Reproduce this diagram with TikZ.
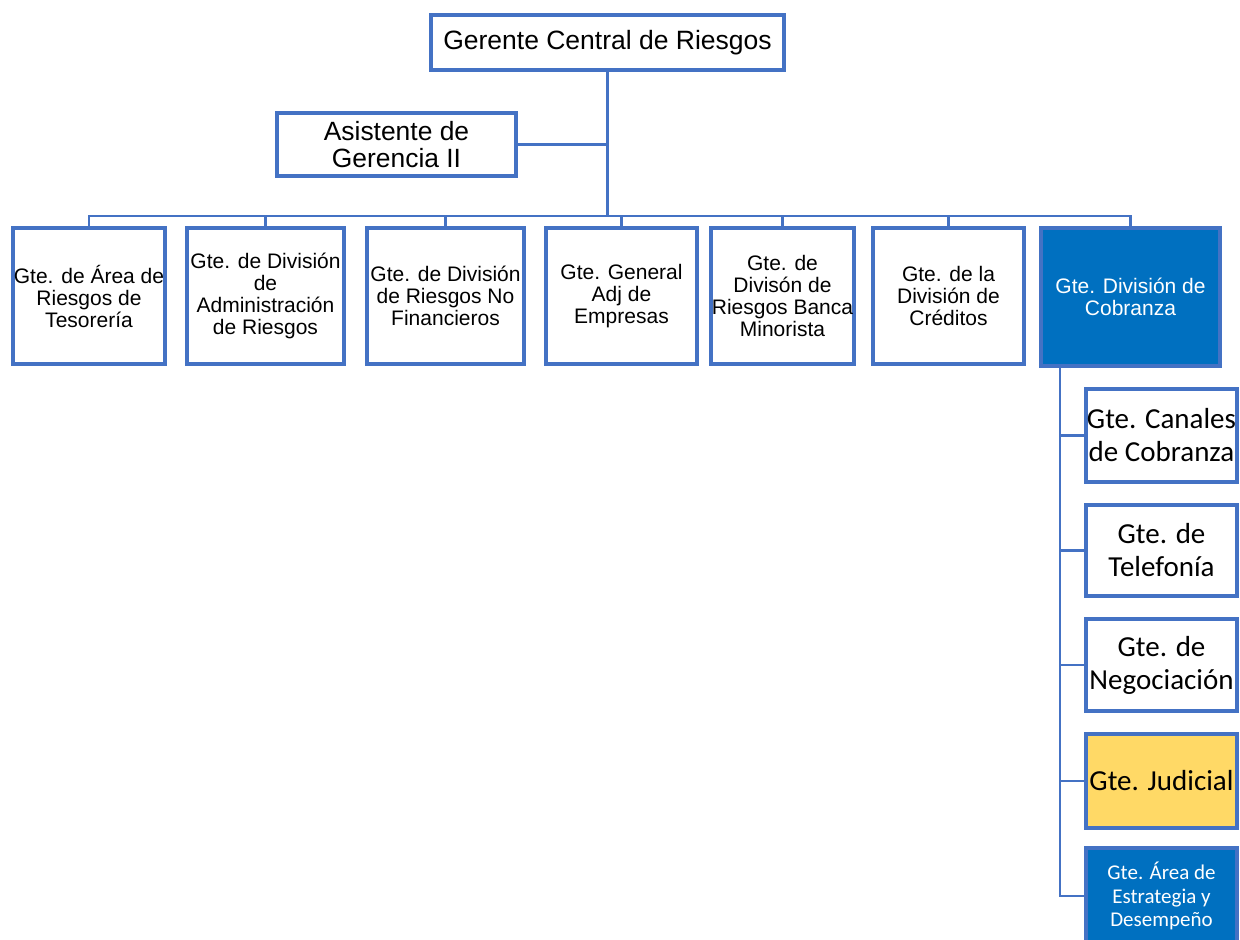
\documentclass[tikz,border=0pt]{standalone}
\usepackage{fontspec}
\setmainfont{Liberation Sans}
\newfontfamily\calib{Carlito}
\definecolor{bord}{HTML}{4472C4}
\definecolor{dblue}{HTML}{0070C0}
\definecolor{gold}{HTML}{FFD966}
\begin{document}
\begin{tikzpicture}[x=1pt,y=-1pt,
  box/.style={draw=bord,line width=3.5pt,fill=white,inner sep=0pt,outer sep=0pt,align=center,text=black},
  rowbox/.style={box,minimum height=136pt,font={\fontsize{21}{22}\selectfont}},
  colbox/.style={box,minimum width=151pt,font={\calib\fontsize{29}{33}\selectfont}},
  conn/.style={draw=bord,line width=2.5pt}]
\useasboundingbox (0,0) rectangle (1240,940);
\clip (0,0) rectangle (1240,940);
% top
\node[box,minimum width=353pt,minimum height=55pt,font={\fontsize{26.5}{28}\selectfont}] (top) at (607.5,42.5) {Gerente Central de Riesgos};
\node[box,minimum width=239pt,minimum height=63pt,font={\fontsize{26.4}{26.7}\selectfont}] (asst) at (396.5,144.5) {Asistente de\\Gerencia II};
% row
\node[rowbox,minimum width=152pt] (b1) at (89,296) {Gte. de Área de\\Riesgos de\\Tesorería};
\node[rowbox,minimum width=157pt] (b2) at (265.5,296) {Gte. de División\\de\\Administración\\de Riesgos};
\node[rowbox,minimum width=157pt] (b3) at (445.5,296) {Gte. de División\\de Riesgos No\\Financieros};
\node[rowbox,minimum width=151pt] (b4) at (621.5,296) {Gte. General\\Adj de\\Empresas};
\node[rowbox,minimum width=143pt] (b5) at (782.5,296) {Gte. de\\Divisón de\\Riesgos Banca\\Minorista};
\node[rowbox,minimum width=151pt] (b6) at (948.5,296) {Gte. de la\\División de\\Créditos};
\node[rowbox,minimum width=179pt,minimum height=138pt,fill=dblue,text=white] (b7) at (1130.5,297) {Gte. División de\\Cobranza};
% column
\node[colbox,minimum height=93pt] (c1) at (1161.5,435.5) {Gte. Canales\\de Cobranza};
\node[colbox,minimum height=91pt] (c2) at (1161.5,550.5) {Gte. de\\Telefonía};
\node[colbox,minimum height=92pt] (c3) at (1161.5,665) {Gte. de\\Negociación};
\node[colbox,minimum height=94pt,fill=gold] (c4) at (1161.5,781) {Gte. Judicial};
\node[colbox,minimum height=96pt,fill=dblue,text=white,font={\calib\fontsize{21}{23.3}\selectfont}] (c5) at (1161.5,896) {Gte. Área de\\Estrategia y\\Desempeño};
% connectors
\coordinate (j) at (607.5,216);
\draw[conn] (top.south) -- (j);
\draw[conn] (asst.east) -- (asst.east -| top.south);
\foreach \b in {b1,b2,b3,b4,b5,b6,b7}{\draw[conn] (\b.north) |- (j);}
\coordinate (t) at ([xshift=19pt]b7.south west);
\foreach \c in {c1,c2,c3,c4,c5}{\draw[conn] (t) |- (\c.west);}
% redraw boxes over connector ends
\end{tikzpicture}
\end{document}
